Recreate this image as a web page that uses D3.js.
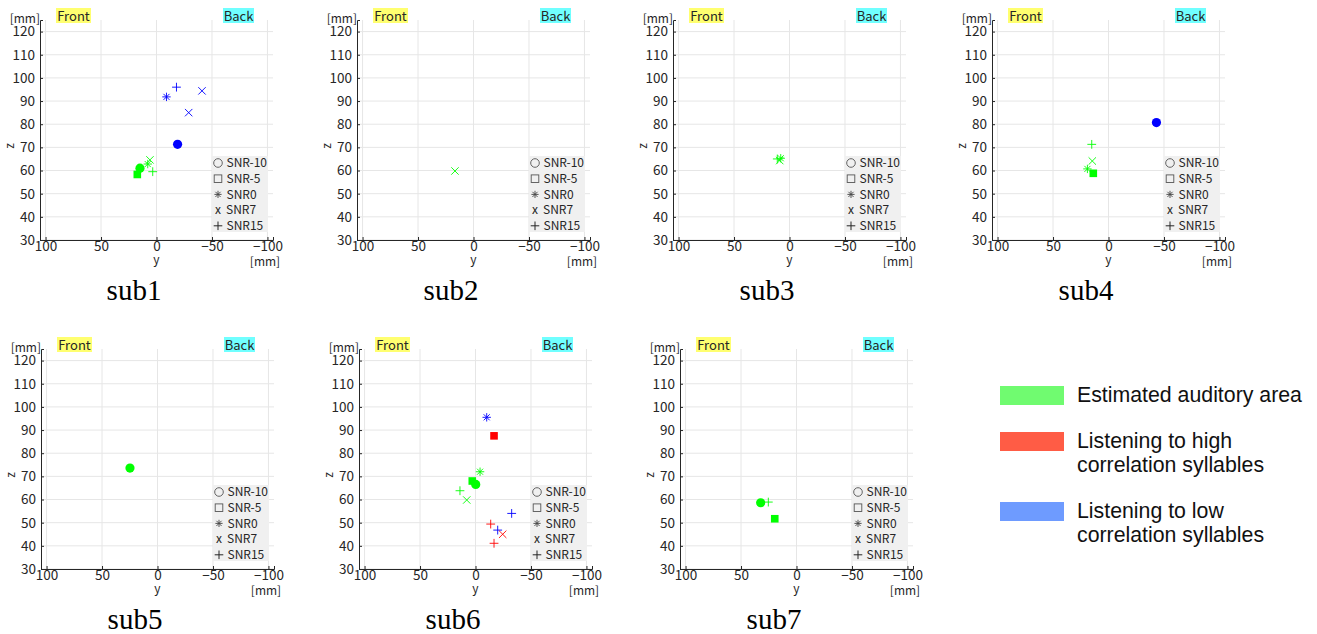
<!DOCTYPE html>
<html>
<head>
<meta charset="utf-8">
<script src="https://cdn.jsdelivr.net/npm/d3@7"></script>
<style>
  body { margin: 0; background: #fff; }
  text { font-family: 'Noto Sans CJK JP', 'Noto Sans', sans-serif; }
</style>
</head>
<body>
<svg id="chart" width="1317" height="634"></svg>
<script>
// subject names, conditions and ticks
const subjects = ['sub1', 'sub2', 'sub3', 'sub4', 'sub5', 'sub6', 'sub7']
const snrLabels = ['SNR-10', 'SNR-5', 'SNR0', 'SNR7', 'SNR15']
const groupLabels = ['Estimated auditory area', 'Listening to high correlation syllables', 'Listening to low correlation syllables']
const yTicks = [100, 50, 0, -50, -100]
const zTicks = [30, 40, 50, 60, 70, 80, 90, 100, 110, 120]

// points: [y, z, snr index, group] group 0 = auditory, 1 = high, 2 = low
const sub1Points = [
  [-18, 96, 4, 2], [-9, 91.8, 2, 2], [-41, 94.4, 3, 2], [-29, 85, 3, 2], [-19, 71.3, 0, 2],
  [5.9, 64.6, 3, 0], [7.9, 62.8, 2, 0], [3.4, 59.5, 4, 0], [14.9, 61, 0, 0], [17.3, 58.3, 1, 0]
]
const sub2Points = [[16.7, 59.8, 3, 0]]
const sub3Points = [[11, 65, 4, 0], [7.9, 65.3, 2, 0], [8.8, 64.3, 3, 0]]
const sub4Points = [
  [-43.2, 80.7, 0, 2],
  [15.1, 71.3, 4, 0], [14.6, 64.1, 3, 0], [19, 60.7, 2, 0], [13.7, 58.8, 1, 0]
]
const sub5Points = [[24.8, 73.6, 0, 0]]
const sub6Points = [
  [-10.1, 95.5, 2, 2], [-16.7, 87.5, 1, 1],
  [-4.1, 72, 2, 0], [2.9, 68, 1, 0], [-0.2, 66.5, 0, 0], [14, 63.8, 4, 0], [7.9, 59.8, 3, 0],
  [-32.6, 54, 4, 2], [-13.7, 49.4, 4, 1], [-20, 46.8, 4, 2], [-24.5, 45, 3, 1], [-16.7, 41.1, 4, 1]
]
const sub7Points = [[32.3, 58.6, 0, 0], [25.4, 58.9, 4, 0], [19.6, 51.7, 1, 0]]

const allPoints = [sub1Points, sub2Points, sub3Points, sub4Points, sub5Points, sub6Points, sub7Points]

const markColor = ['#00ff00', '#ff0000', '#0000ff']
const groupColor = ['#70fb70', '#ff5c45', '#6e9bff']

// panel placement
const panelX = [0, 317, 633, 952, 1, 319, 640]
const panelY = [0, 0, 0, 0, 329, 329, 329]

const svg = d3.select('#chart')

const x = d3.scaleLinear().domain([105, -105]).range([40, 273])
const z = d3.scaleLinear().domain([30, 125]).range([240, 20])

// marker shapes
function markerPath (snr, s) {
  if (snr === 2) {
    const d = s * 0.72
    return `M0,${-s}V${s}M${-s},0H${s}M${-d},${-d}L${d},${d}M${-d},${d}L${d},${-d}`
  }
  if (snr === 3) return `M${-s},${-s}L${s},${s}M${-s},${s}L${s},${-s}`
  return `M0,${-s}V${s}M${-s},0H${s}`
}

const markSize = [4.6, 3.8, 4.2, 3.7, 4.4]

function drawMarker (g, snr, color) {
  if (snr === 0) {
    g.append('circle').attr('r', markSize[0]).attr('fill', color)
  } else if (snr === 1) {
    const s = markSize[1]
    g.append('rect').attr('x', -s).attr('y', -s).attr('width', 2 * s).attr('height', 2 * s)
      .attr('fill', color)
  } else {
    g.append('path').attr('d', markerPath(snr, markSize[snr]))
      .attr('fill', 'none').attr('stroke', color).attr('stroke-width', 0.9)
  }
}

subjects.forEach((name, i) => {
  const p = svg.append('g').attr('transform', `translate(${panelX[i]},${panelY[i]})`)

  // grid
  p.selectAll('.gx').data(yTicks).enter().append('line')
    .attr('x1', d => x(d)).attr('x2', d => x(d))
    .attr('y1', z(125)).attr('y2', z(30))
    .attr('stroke', '#e6e6e6')
  p.selectAll('.gz').data(zTicks).enter().append('line')
    .attr('x1', x(105)).attr('x2', x(-105))
    .attr('y1', d => z(d)).attr('y2', d => z(d))
    .attr('stroke', '#e6e6e6')

  // axes
  const ax = p.append('g').attr('transform', `translate(0,${z(30)})`)
    .call(d3.axisBottom(x).tickValues(yTicks).tickSize(-3).tickPadding(3))
  const az = p.append('g').attr('transform', `translate(${x(105)},0)`)
    .call(d3.axisLeft(z).tickValues(zTicks).tickSize(-3).tickPadding(5))
  ;[ax, az].forEach(a => {
    a.select('.domain').attr('stroke', '#262626')
    a.selectAll('.tick line').attr('stroke', '#262626')
    a.selectAll('.tick text').attr('fill', '#262626')
      .style('font-size', '13.5px')
      .style('font-family', "'Noto Sans CJK JP', 'Noto Sans', sans-serif")
  })
  ax.selectAll('.tick text').attr('dy', '0.58em')

  // axis titles
  p.append('text').attr('x', 40).attr('y', 22.5).attr('text-anchor', 'end')
    .style('font-size', '12px').attr('fill', '#262626').text('[mm]')
  p.append('text').attr('transform', 'translate(14,146) rotate(-90)')
    .attr('text-anchor', 'middle').style('font-size', '12px').attr('fill', '#262626').text('z')
  p.append('text').attr('x', x(0)).attr('y', 264).attr('text-anchor', 'middle')
    .style('font-size', '12px').attr('fill', '#262626').text('y')
  p.append('text').attr('x', 265).attr('y', 266).attr('text-anchor', 'middle')
    .style('font-size', '12px').attr('fill', '#262626').text('[mm]')

  // front / back tags
  p.append('rect').attr('x', 56).attr('y', 8).attr('width', 35).attr('height', 15).attr('fill', '#ffff70')
  p.append('text').attr('x', 73.5).attr('y', 20.5).attr('text-anchor', 'middle')
    .style('font-size', '13px').attr('fill', '#262626').text('Front')
  p.append('rect').attr('x', 223).attr('y', 8).attr('width', 31).attr('height', 15).attr('fill', '#70ffff')
  p.append('text').attr('x', 238.5).attr('y', 20.5).attr('text-anchor', 'middle')
    .style('font-size', '13px').attr('fill', '#262626').text('Back')

  // markers
  p.selectAll('.pt').data(allPoints[i]).enter().append('g')
    .attr('transform', d => `translate(${x(d[0])},${z(d[1])})`)
    .each(function (d) { drawMarker(d3.select(this), d[2], markColor[d[3]]) })

  // snr legend
  const lg = p.append('g').attr('transform', 'translate(212,156)')
  lg.append('rect').attr('width', 56).attr('height', 76).attr('fill', '#f0f0f0')
  snrLabels.forEach((lab, k) => {
    const yy = 7 + k * 15.7
    const m = lg.append('g').attr('transform', `translate(6,${yy})`)
    if (k === 3) {
      m.append('text').attr('x', -3).attr('dy', '0.32em').style('font-size', '12px').attr('fill', '#262626').text('x')
    } else if (k === 2) {
      m.append('path').attr('d', markerPath(2, 3.6)).attr('fill', 'none').attr('stroke', '#444').attr('stroke-width', 0.9)
    } else if (k === 4) {
      m.append('path').attr('d', markerPath(4, 4.3)).attr('stroke', '#262626').attr('stroke-width', 1)
    } else if (k === 0) {
      m.append('circle').attr('r', 4.3).attr('fill', 'none').attr('stroke', '#555').attr('stroke-width', 0.9)
    } else {
      m.append('rect').attr('x', -3.8).attr('y', -3.8).attr('width', 7.6).attr('height', 7.6)
        .attr('fill', 'none').attr('stroke', '#555').attr('stroke-width', 0.9)
    }
    lg.append('text').attr('x', k === 3 ? 14 : 14.5).attr('y', yy).attr('dy', '0.36em')
      .style('font-size', '12px').attr('fill', '#262626').text(lab)
  })

  // caption
  p.append('text').attr('x', 134).attr('y', 300).attr('text-anchor', 'middle')
    .style('font-family', "'Liberation Serif', serif").style('font-size', '29px')
    .attr('fill', '#000').text(name)
})

// group legend on the right
const legendLines = [['Estimated auditory area'], ['Listening to high', 'correlation syllables'], ['Listening to low', 'correlation syllables']]
const legendTop = [386, 432, 502]
groupLabels.forEach((g, k) => {
  svg.append('rect').attr('x', 1000).attr('y', legendTop[k]).attr('width', 64).attr('height', 19)
    .attr('fill', groupColor[k])
  legendLines[k].forEach((line, j) => {
    svg.append('text').attr('x', 1077).attr('y', legendTop[k] + 15.5 + j * 24.5)
      .style('font-family', "'Liberation Sans', Arial, sans-serif").style('font-size', '21.3px')
      .attr('fill', '#111').text(line)
  })
})
</script>
</body>
</html>
